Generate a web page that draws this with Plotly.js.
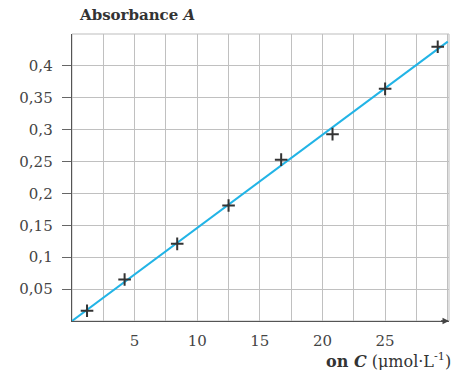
<!DOCTYPE html>
<html>
<head>
<meta charset="utf-8">
<script src="https://cdn.plot.ly/plotly-3.0.1.min.js"></script>
<style>html,body{margin:0;padding:0;background:#fff}#chart{width:468px;height:370px}</style>
</head>
<body>
<div id="chart"></div>
<script>
// Measured points: concentration C (µmol/L) and absorbance A
const concentration = [1.2, 4.2, 8.4, 12.5, 16.7, 20.8, 25.0, 29.2];
const absorbance = [0.016, 0.065, 0.121, 0.181, 0.253, 0.293, 0.364, 0.430];
// Fitted line endpoints
const fitX = [0, 30];
const fitY = [0, 0.438];
const xTickVals = [5, 10, 15, 20, 25];
const xTickText = ['5', '10', '15', '20', '25'];
const yTickVals = [0.05, 0.1, 0.15, 0.2, 0.25, 0.3, 0.35, 0.4];
const yTickText = ['0,05', '0,1', '0,15', '0,2', '0,25', '0,3', '0,35', '0,4'];

const font = 'DejaVu Serif, Liberation Serif, serif';
const traces = [
  {x: fitX, y: fitY, mode: 'lines', line: {color: '#22b4e6', width: 2}, hoverinfo: 'skip'},
  {x: concentration, y: absorbance, mode: 'markers',
   marker: {symbol: 'cross-thin', size: 9, line: {color: '#333', width: 2}}}
];
const layout = {
  width: 468, height: 370,
  margin: {l: 72, r: 19, t: 34, b: 49},
  showlegend: false,
  paper_bgcolor: '#fff', plot_bgcolor: '#fff',
  separators: ', ',
  font: {family: font, size: 15, color: '#444'},
  xaxis: {
    range: [0, 30.1], tickvals: xTickVals, ticktext: xTickText,
    showgrid: true, gridcolor: '#c0c0c0', gridwidth: 1,
    minor: {dtick: 2.5, tick0: 0, showgrid: true, gridcolor: '#c0c0c0', gridwidth: 1},
    showline: true, linecolor: '#555', linewidth: 1.3,
    ticks: '', ticklabelstandoff: 6, zeroline: false, fixedrange: true
  },
  yaxis: {
    range: [0, 0.45], tickvals: yTickVals, ticktext: yTickText,
    showgrid: true, gridcolor: '#c0c0c0', gridwidth: 1,
    showline: true, linecolor: '#555', linewidth: 1.3,
    ticks: 'outside', ticklen: 9, tickcolor: '#666', tickwidth: 1,
    ticklabelstandoff: 6, zeroline: false, fixedrange: true
  },
  shapes: [
    {type: 'rect', xref: 'paper', yref: 'paper', x0: 0, x1: 1, y0: 0, y1: 1,
     line: {color: '#bdbdbd', width: 1}, layer: 'below'}
  ],
  annotations: [
    {xref: 'paper', yref: 'paper', x: 0.012, y: 1.028, xanchor: 'left', yanchor: 'bottom',
     text: '<b>Absorbance <i>A</i></b>', showarrow: false,
     font: {family: font, size: 15, color: '#333'}},
    {xref: 'paper', yref: 'paper', x: 1.01, y: -0.136, xanchor: 'right', yanchor: 'middle',
     text: '<b>on <i>C</i></b> (µmol·L<sup>-1</sup>)', showarrow: false,
     font: {family: font, size: 16, color: '#333'}},
    {xref: 'paper', yref: 'paper', x: 0, y: 0.987, ax: 0, ay: 12, showarrow: true,
     arrowhead: 2, arrowsize: 1, arrowwidth: 1.3, arrowcolor: '#444', text: ' '},
    {xref: 'paper', yref: 'paper', x: 1, y: 0, ax: -12, ay: 0, showarrow: true,
     arrowhead: 2, arrowsize: 1, arrowwidth: 1.3, arrowcolor: '#444', text: ' '}
  ]
};
Plotly.newPlot('chart', traces, layout, {displayModeBar: false, staticPlot: true});
</script>
</body>
</html>
